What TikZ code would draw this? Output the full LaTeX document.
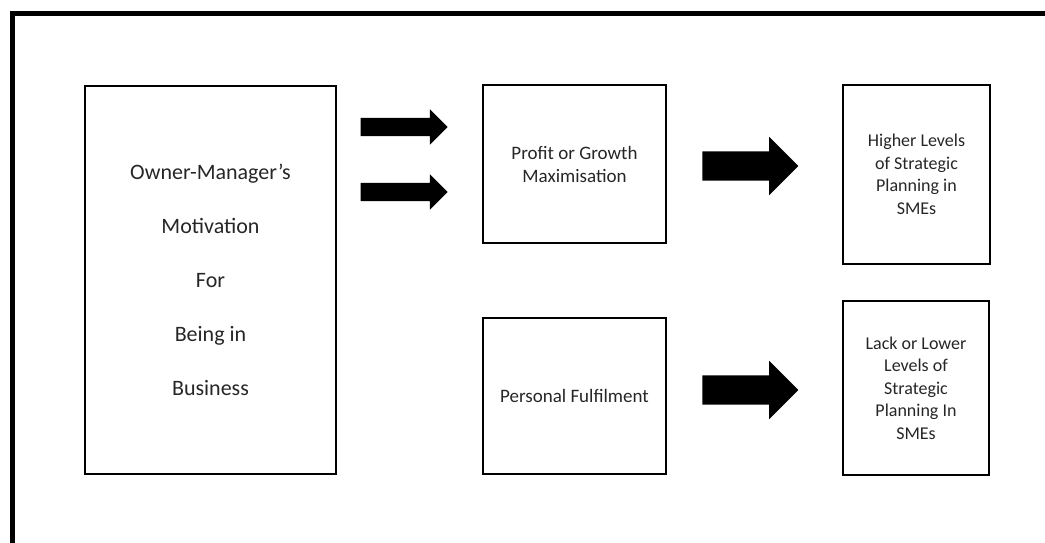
\documentclass[tikz,border=0pt]{standalone}
\usepackage{fontspec}
\setmainfont{Carlito}
\usetikzlibrary{shapes.arrows}
\tikzset{>=stealth,
  box/.style={draw=black, line width=2.2pt, align=center, text=black!85, inner sep=0pt},
  midtext/.style={font=\fontsize{19}{23}\selectfont},
  smalltext/.style={font=\fontsize{18}{22.5}\selectfont},
  thinarrow/.style={single arrow, fill=black, draw=none, inner xsep=0pt, inner ysep=9pt,
    single arrow head extend=8.5pt, minimum height=87pt},
  fatarrow/.style={single arrow, fill=black, draw=none, inner xsep=0pt, inner ysep=14.5pt,
    single arrow head extend=14.5pt, minimum height=96pt}}

\begin{document}
\begin{tikzpicture}[x=1pt, y=-1pt]
    \useasboundingbox (0,0) rectangle (1045,543);
    \coordinate (frameBL) at (12.5,543);
    \coordinate (frameTL) at (12.5,13.5);
    \coordinate (frameTR) at (1045,13.5);
    \draw[line width=5pt] (frameBL) -- (frameTL) -- (frameTR);

    \node[box, minimum width=251pt, minimum height=388pt,
          font=\fontsize{22}{54}\selectfont] (owner) at (210.5,280)
          {Owner-Manager’s\\Motivation\\For\\Being in\\Business};
    \node[box, midtext, minimum width=183pt, minimum height=158pt] (profit) at (574.5,164)
          {Profit or Growth\\Maximisation};
    \node[box, midtext, minimum width=183pt, minimum height=156pt] (personal) at (574.5,396)
          {Personal Fulfilment};
    \node[box, smalltext, minimum width=147pt, minimum height=179pt] (higher) at (916.5,174.5)
          {Higher Levels\\of Strategic\\Planning in\\SMEs};
    \node[box, smalltext, minimum width=146pt, minimum height=174pt] (lack) at (916,388)
          {Lack or Lower\\Levels of\\Strategic\\Planning In\\SMEs};

    \node[thinarrow] (arrowA) at (399.5,127) {};
    \node[thinarrow] (arrowB) at (399.5,192) {};
    \node[fatarrow] (arrowC) at (743,166) {};
    \node[fatarrow] (arrowD) at (743,390) {};
\end{tikzpicture}
\end{document}
